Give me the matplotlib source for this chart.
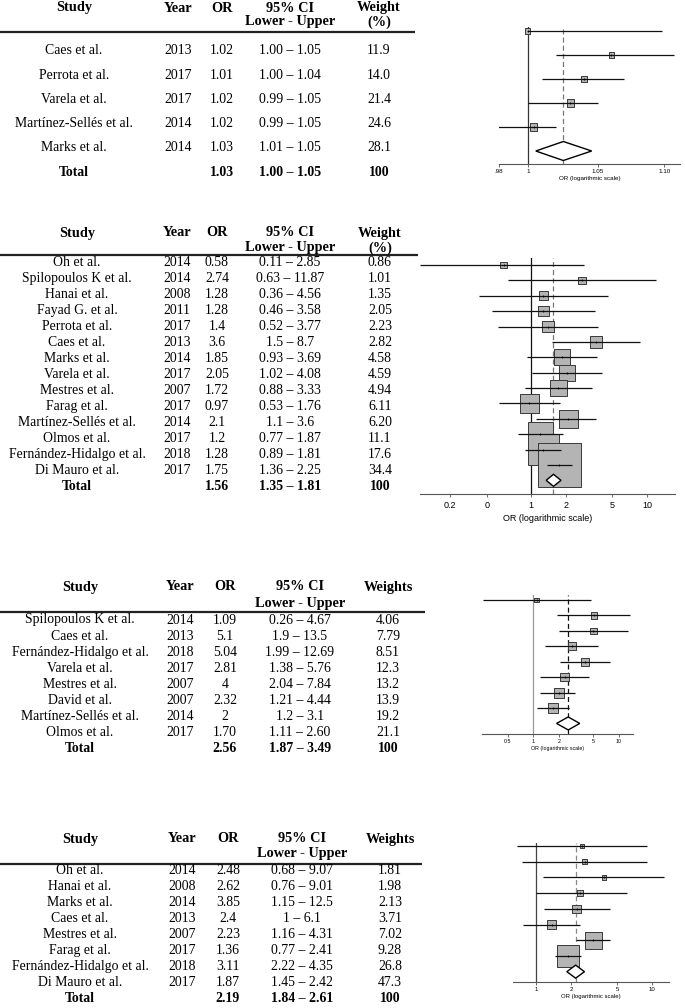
import matplotlib.pyplot as plt
import numpy as np

W, H = 685, 1008

# ---------------- panel 1 ----------------
p1_study = ["Caes et al.", "Perrota et al.", "Varela et al.", "Martínez-Sellés et al.", "Marks et al."]
p1_year = ["2013", "2017", "2017", "2014", "2014"]
p1_or = ["1.02", "1.01", "1.02", "1.02", "1.03"]
p1_ci = ["1.00 – 1.05", "1.00 – 1.04", "0.99 – 1.05", "0.99 – 1.05", "1.01 – 1.05"]
p1_weight = ["11.9", "14.0", "21.4", "24.6", "28.1"]
p1_total = ["1.03", "1.00 – 1.05", "100"]
# the forest plot of panel 1 does not follow its table
p1_plot_or = [1.000, 1.060, 1.040, 1.030, 1.004]
p1_plot_lo = [1.000, 1.020, 1.010, 1.000, 0.979]
p1_plot_hi = [1.098, 1.107, 1.069, 1.050, 1.020]
p1_pool = [1.025, 1.0055, 1.0455]

# ---------------- panel 2 ----------------
p2_study = ["Oh et al.", "Spilopoulos K et al.", "Hanai et al.", "Fayad G. et al.", "Perrota et al.",
            "Caes et al.", "Marks et al.", "Varela et al.", "Mestres et al.", "Farag et al.",
            "Martínez-Sellés et al.", "Olmos et al.", "Fernández-Hidalgo et al.", "Di Mauro et al."]
p2_year = ["2014", "2014", "2008", "2011", "2017", "2013", "2014", "2017", "2007", "2017",
           "2014", "2017", "2018", "2017"]
p2_or = ["0.58", "2.74", "1.28", "1.28", "1.4", "3.6", "1.85", "2.05", "1.72", "0.97",
         "2.1", "1.2", "1.28", "1.75"]
p2_lo = ["0.11", "0.63", "0.36", "0.46", "0.52", "1.5", "0.93", "1.02", "0.88", "0.53",
         "1.1", "0.77", "0.89", "1.36"]
p2_hi = ["2.85", "11.87", "4.56", "3.58", "3.77", "8.7", "3.69", "4.08", "3.33", "1.76",
         "3.6", "1.87", "1.81", "2.25"]
p2_weight = ["0.86", "1.01", "1.35", "2.05", "2.23", "2.82", "4.58", "4.59", "4.94", "6.11",
             "6.20", "11.1", "17.6", "34.4"]
p2_total = ["1.56", "1.35", "1.81", "100"]

# ---------------- panel 3 ----------------
p3_study = ["Spilopoulos K et al.", "Caes et al.", "Fernández-Hidalgo et al.", "Varela et al.",
            "Mestres et al.", "David et al.", "Martínez-Sellés et al.", "Olmos et al."]
p3_year = ["2014", "2013", "2018", "2017", "2007", "2007", "2014", "2017"]
p3_or = ["1.09", "5.1", "5.04", "2.81", "4", "2.32", "2", "1.70"]
p3_lo = ["0.26", "1.9", "1.99", "1.38", "2.04", "1.21", "1.2", "1.11"]
p3_hi = ["4.67", "13.5", "12.69", "5.76", "7.84", "4.44", "3.1", "2.60"]
p3_weight = ["4.06", "7.79", "8.51", "12.3", "13.2", "13.9", "19.2", "21.1"]
p3_total = ["2.56", "1.87", "3.49", "100"]

# ---------------- panel 4 ----------------
p4_study = ["Oh et al.", "Hanai et al.", "Marks et al.", "Caes et al.", "Mestres et al.",
            "Farag et al.", "Fernández-Hidalgo et al.", "Di Mauro et al."]
p4_year = ["2014", "2008", "2014", "2013", "2007", "2017", "2018", "2017"]
p4_or = ["2.48", "2.62", "3.85", "2.4", "2.23", "1.36", "3.11", "1.87"]
p4_lo = ["0.68", "0.76", "1.15", "1", "1.16", "0.77", "2.22", "1.45"]
p4_hi = ["9.07", "9.01", "12.5", "6.1", "4.31", "2.41", "4.35", "2.42"]
p4_weight = ["1.81", "1.98", "2.13", "3.71", "7.02", "9.28", "26.8", "47.3"]
p4_total = ["2.19", "1.84", "2.61", "100"]

SERIF = ["Liberation Serif", "DejaVu Serif"]
SANS = ["Liberation Sans", "DejaVu Sans"]
FS = 9.9
HFS = 10.3

fig = plt.figure(figsize=(W / 100, H / 100), dpi=100)
tab = fig.add_axes([0, 0, 1, 1])
tab.set_xlim(0, W)
tab.set_ylim(H, 0)
tab.axis("off")


def ci_text(lo, hi):
    return [f"{a} – {b}" for a, b in zip(lo, hi)]


def draw_table(cols, head_y, line_y, line_x, row_y0, step, rows, total, weight_head):
    y1, y2 = head_y
    kw = dict(family=SERIF, fontsize=HFS, weight="bold", ha="center", va="center")
    tab.text(cols[0], y1, "Study", **kw)
    tab.text(cols[1], y1, "Year", **kw)
    tab.text(cols[2], y1, "OR", **kw)
    tab.text(cols[3], y1, "95% CI", **kw)
    tab.text(cols[3], y2, "Lower - Upper", **kw)
    if weight_head == "Weight":
        tab.text(cols[4], y1, "Weight", **kw)
        tab.text(cols[4], y2, "(%)", **kw)
    else:
        tab.text(cols[4], y1, weight_head, **kw)
    tab.plot([0, line_x], [line_y, line_y], color="#222222", lw=1.6, solid_capstyle="butt")
    for i, row in enumerate(zip(*rows)):
        y = row_y0 + i * step
        for x, s in zip(cols, row):
            tab.text(x, y, s, family=SERIF, fontsize=FS, ha="center", va="center")
    y = row_y0 + len(rows[0]) * step
    tab.text(cols[0], y, "Total", family=SERIF, fontsize=FS, weight="bold", ha="center", va="center")
    for x, s in zip(cols[2:], total):
        tab.text(x, y, s, family=SERIF, fontsize=FS, weight="bold", ha="center", va="center")


def forest(box, row0, step, ors, los, his, wts, k, pool, xlim, ticks, labels,
           tfs, ref_col, dash_col, dhalf, pad, tpad=1.5):
    left, right, axis_y = box
    n = len(ors)
    top = row0 - pad
    ax = fig.add_axes([left / W, 1 - axis_y / H, (right - left) / W, (axis_y - top) / H])
    ax.set_xscale("log")
    ax.set_xlim(*xlim)
    ax.set_ylim(n + (axis_y - (row0 + n * step)) / step, -pad / step)
    for s in ["top", "right", "left"]:
        ax.spines[s].set_visible(False)
    ax.spines["bottom"].set_color("#555555")
    ax.spines["bottom"].set_linewidth(0.8)
    ax.set_yticks([])
    ax.minorticks_off()
    ax.set_xticks(ticks)
    ax.set_xticklabels(labels, family=SANS, fontsize=tfs)
    ax.tick_params(axis="x", length=2.2, width=0.6, pad=tpad, color="#555555")
    ax.set_xlabel("OR (logarithmic scale)", family=SANS, fontsize=tfs, labelpad=tpad - 0.5)

    y = np.arange(n)
    ax.axvline(1, color=ref_col, lw=0.9, zorder=1)
    ax.axvline(pool[0], color=dash_col, lw=0.9, ls=(0, (4, 2.5)), zorder=1)
    side = k * np.sqrt(np.asarray(wts, float)) * 0.72
    ax.scatter(ors, y, s=side ** 2, marker="s", facecolor="#b4b4b4",
               edgecolor="#3a3a3a", linewidth=0.7, zorder=2)
    ax.hlines(y, los, his, color="#111111", lw=0.9, zorder=3)
    ax.scatter(ors, y, s=4, marker="+", color="black", linewidth=0.6, zorder=4)
    est, lo, hi = pool
    d = dhalf / step
    ax.fill([lo, est, hi, est], [n, n - d, n, n + d], facecolor="white",
            edgecolor="black", lw=1.0, zorder=5)
    return ax


# panel 1
draw_table([74, 178, 222, 290, 379], (8, 22), 32, 415, 51, 24.2,
           [p1_study, p1_year, p1_or, p1_ci, p1_weight], p1_total, "Weight")
forest((499, 680, 164), 31, 24, p1_plot_or, p1_plot_lo, p1_plot_hi, p1_weight, 1.45,
       p1_pool, (0.98, 1.112), [0.98, 1.0, 1.05, 1.10], [".98", "1", "1.05", "1.10"],
       4.5, "#333333", "#777777", 9.5, 4)

# panel 2
draw_table([77, 177, 217, 290, 380], (233, 248), 255, 418, 263, 15.93,
           [p2_study, p2_year, p2_or, ci_text(p2_lo, p2_hi), p2_weight],
           [p2_total[0], f"{p2_total[1]} – {p2_total[2]}", p2_total[3]], "Weight")
forest((420, 675, 494), 265, 15.38, [float(v) for v in p2_or], [float(v) for v in p2_lo],
       [float(v) for v in p2_hi], p2_weight, 7.4,
       [float(v) for v in p2_total[:3]], (0.111, 17.3), [0.2, 0.42, 1, 2, 5, 10],
       ["0.2", "0", "1", "2", "5", "10"], 6.5, "#111111", "#777777", 6, 7, tpad=3.2)

# panel 3
draw_table([80, 180, 225, 300, 388], (587, 603), 612, 425, 620, 16.1,
           [p3_study, p3_year, p3_or, ci_text(p3_lo, p3_hi), p3_weight],
           [p3_total[0], f"{p3_total[1]} – {p3_total[2]}", p3_total[3]], "Weights")
forest((482, 633, 734), 600, 15.43, [float(v) for v in p3_or], [float(v) for v in p3_lo],
       [float(v) for v in p3_hi], p3_weight, 2.25,
       [float(v) for v in p3_total[:3]], (0.25, 14.7), [0.5, 1, 2, 5, 10],
       ["0.5", "1", "2", "5", "10"], 3.8, "#999999", "#111111", 6.5, 5)

# panel 4
draw_table([80, 182, 228, 302, 390], (839, 854), 864, 422, 871, 15.9,
           [p4_study, p4_year, p4_or, ci_text(p4_lo, p4_hi), p4_weight],
           [p4_total[0], f"{p4_total[1]} – {p4_total[2]}", p4_total[3]], "Weights")
forest((513, 669, 982), 846, 15.71, [float(v) for v in p4_or], [float(v) for v in p4_lo],
       [float(v) for v in p4_hi], p4_weight, 3.2,
       [float(v) for v in p4_total[:3]], (0.634, 13.9), [1, 2, 5, 10],
       ["1", "2", "5", "10"], 4.3, "#444444", "#888888", 6.5, 3)

fig.savefig("out.png", dpi=100)
